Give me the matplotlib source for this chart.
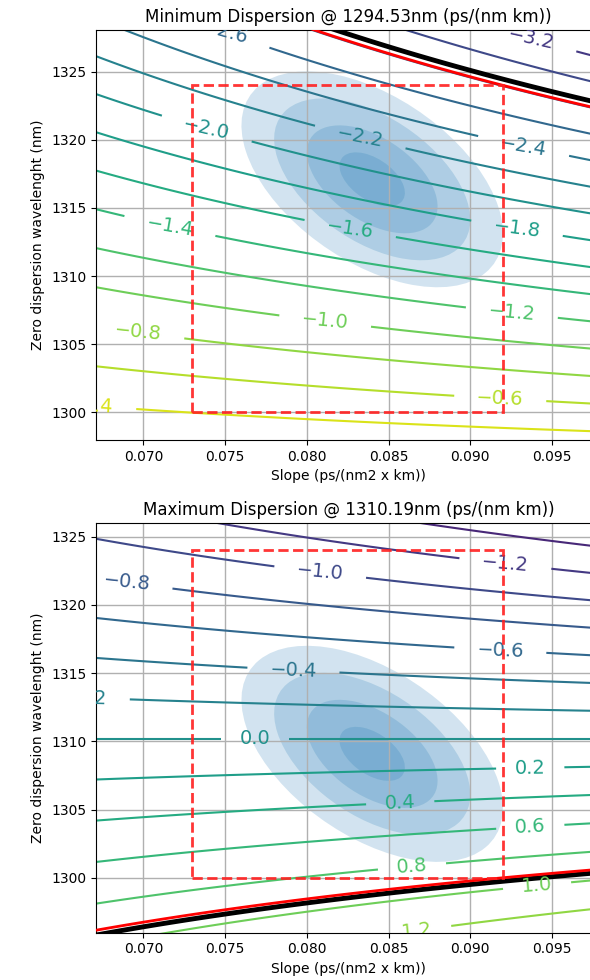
import numpy as np
import matplotlib
matplotlib.use("Agg")
import matplotlib.pyplot as plt
from matplotlib.patches import Ellipse, Rectangle
import matplotlib.transforms as transforms

# ---------------- data ----------------
wavelengths = [1294.53, 1310.19]          # evaluation wavelength (nm)
titles = ["Minimum Dispersion @ 1294.53nm (ps/(nm km))",
          "Maximum Dispersion @ 1310.19nm (ps/(nm km))"]
top_levels = [-3.8, -3.6, -3.4, -3.2, -3.0, -2.8, -2.6, -2.4, -2.2, -2.0,
              -1.8, -1.6, -1.4, -1.2, -1.0, -0.8, -0.6, -0.4, -0.2]
bot_levels = [-1.8, -1.6, -1.4, -1.2, -1.0, -0.8, -0.6, -0.4, -0.2, 0.0,
              0.2, 0.4, 0.6, 0.8, 1.0, 1.2, 1.4, 1.6, 1.8]
levels_list = [top_levels, bot_levels]
norm_ranges = [(-3.8, -0.2), (-1.8, 1.8)]
spec_limits = [-2.85, 0.95]               # black line (spec)
corner_values = [-2.805, 0.927]           # red line (worst case in box)
slope_box = [0.073, 0.092]
lambda0_box = [1300, 1324]
ell_center_x = [0.0840, 0.0840]
ell_center_y = [1317.1, 1309.08]
ell_sigma_x = [0.0020, 0.0020]
ell_sigma_y = [1.98, 1.98]
ell_rho = [-0.5, -0.5]
ylims = [(1297.97, 1328.06), (1295.97, 1325.98)]
xlim = (0.0671, 0.0980)
xticks = [0.070, 0.075, 0.080, 0.085, 0.090, 0.095]
yticks = [1300, 1305, 1310, 1315, 1320, 1325]

top_label_pos = [(0.0750, 1327.95), (0.0937, 1327.2), (0.0739, 1320.97),
                 (0.08327, 1320.2), (0.09326, 1319.5), (0.07163, 1313.75),
                 (0.08265, 1313.44), (0.09286, 1313.5), (0.09255, 1307.4),
                 (0.08112, 1306.66), (0.0697, 1305.9), (0.09184, 1301.2),
                 (0.06674, 1300.3)]
bot_label_pos = [(0.09215, 1323.05), (0.08082, 1322.43), (0.06898, 1321.7),
                 (0.09184, 1316.7), (0.07918, 1315.23), (0.06635, 1313.15),
                 (0.07684, 1310.29), (0.09367, 1308.14), (0.08571, 1305.7),
                 (0.09367, 1303.86), (0.08643, 1300.93), (0.09408, 1299.59),
                 (0.08674, 1296.3)]
label_pos_list = [top_label_pos, bot_label_pos]


def dispersion(s0, l0, lam):
    return s0 / 4.0 * (lam - l0 ** 4 / lam ** 3)


def fmt(v):
    v = round(float(v), 1) + 0.0
    return f"{v:.1f}".replace("-", "\u2212")


fig = plt.figure(figsize=(5.9, 9.8), dpi=100)
axes_rects = [[96 / 590, (980 - 440) / 980, 505 / 590, 410 / 980],
              [96 / 590, (980 - 932.7) / 980, 505 / 590, 409.4 / 980]]

s = np.linspace(0.060, 0.105, 300)
l = np.linspace(1285, 1340, 300)
S, L = np.meshgrid(s, l)

for i in range(2):
    ax = fig.add_axes(axes_rects[i])
    D = dispersion(S, L, wavelengths[i])

    # confidence ellipses 1..4 sigma
    for n in [1, 2, 3, 4]:
        rho = ell_rho[i]
        e = Ellipse((0, 0), width=2 * np.sqrt(1 + rho), height=2 * np.sqrt(1 - rho),
                    facecolor="C0", alpha=0.2, edgecolor="none", zorder=1)
        tr = (transforms.Affine2D().rotate_deg(45)
              .scale(ell_sigma_x[i] * n, ell_sigma_y[i] * n)
              .translate(ell_center_x[i], ell_center_y[i]))
        e.set_transform(tr + ax.transData)
        ax.add_patch(e)

    vmin, vmax = norm_ranges[i]
    cs = ax.contour(S, L, D, levels=levels_list[i], cmap="viridis",
                    vmin=vmin, vmax=vmax, linewidths=1.5,
                    linestyles="solid", zorder=2)
    txts = ax.clabel(cs, inline=True, fontsize=14, fmt=fmt,
                     inline_spacing=8, manual=label_pos_list[i])
    for t in txts:
        t.set_clip_on(True)
        t.set_clip_box(ax.bbox)

    ax.contour(S, L, D, levels=[spec_limits[i]], colors="black",
               linewidths=3.5, linestyles="solid", zorder=3)
    ax.contour(S, L, D, levels=[corner_values[i]], colors="red",
               linewidths=2, linestyles="solid", zorder=3)

    rect = Rectangle((slope_box[0], lambda0_box[0]),
                     slope_box[1] - slope_box[0], lambda0_box[1] - lambda0_box[0],
                     fill=False, edgecolor="#ff2020", linestyle="--",
                     linewidth=2, alpha=0.9, zorder=4)
    ax.add_patch(rect)

    ax.set_xlim(*xlim)
    ax.set_ylim(*ylims[i])
    ax.set_xticks(xticks)
    ax.set_xticklabels([f"{x:.3f}" for x in xticks])
    ax.set_yticks(yticks)
    ax.grid(True, color="#b0b0b0", linewidth=1.0)
    ax.set_title(titles[i], fontsize=12)
    ax.set_xlabel("Slope (ps/(nm2 x km))")
    ax.set_ylabel("Zero dispersion wavelenght (nm)")

fig.savefig("out.png", dpi=100)
